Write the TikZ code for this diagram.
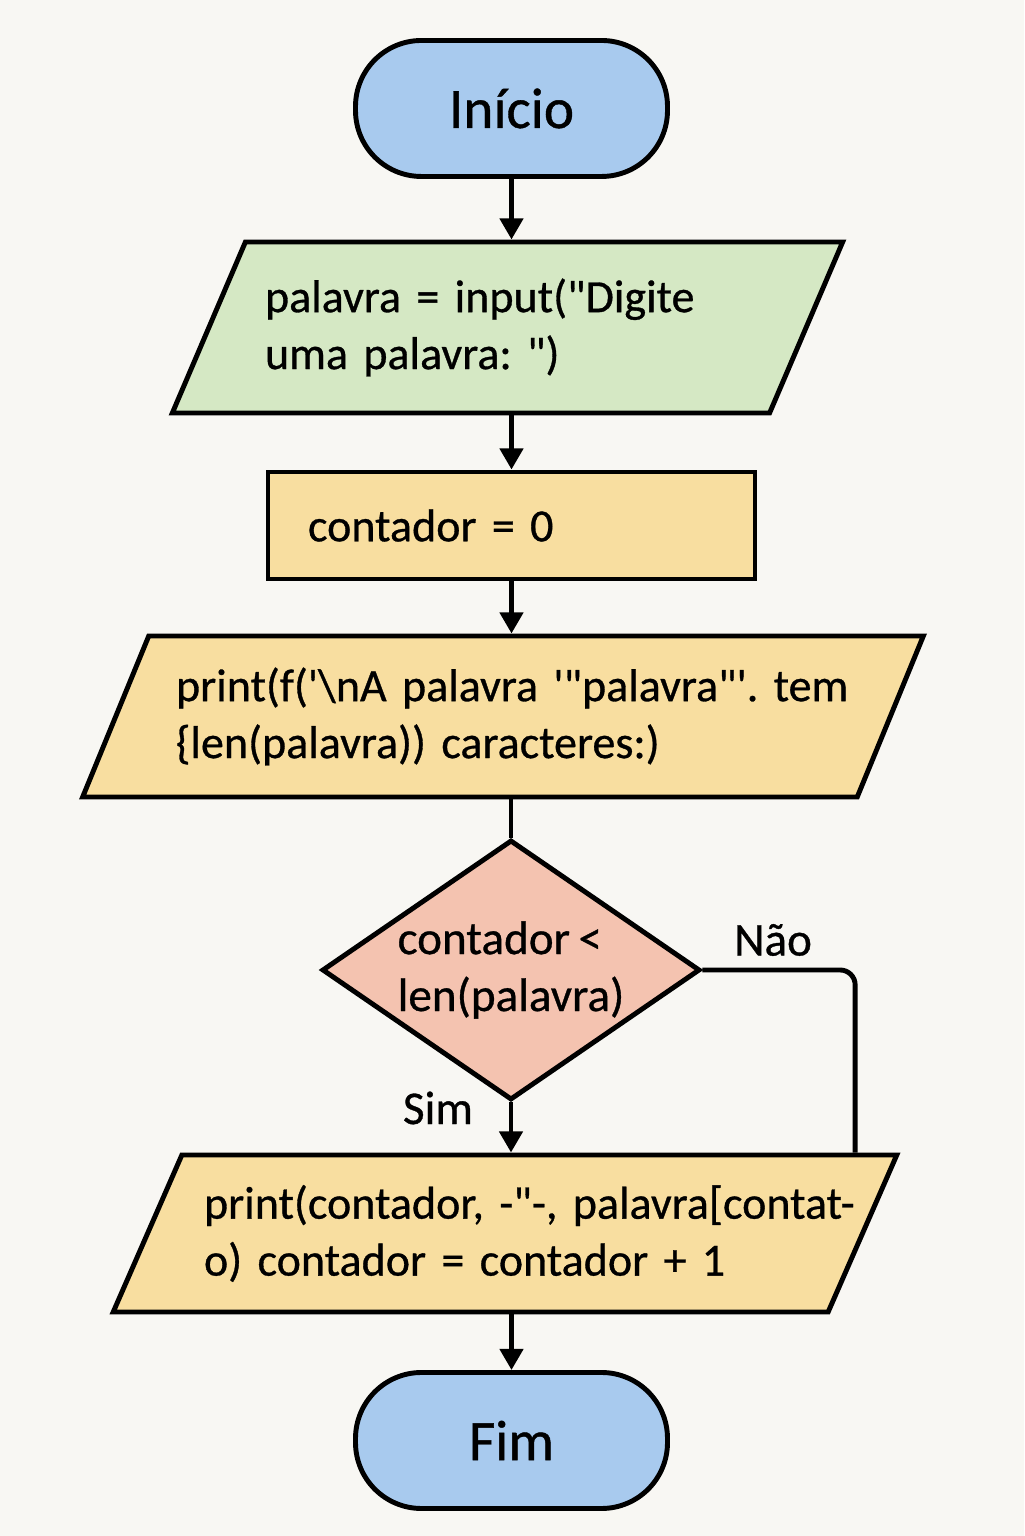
\documentclass[tikz,border=0pt]{standalone}
\usepackage{fontspec}
\setmainfont{Carlito}[WordSpace=0.8,FakeBold=0.7]
\frenchspacing
\usetikzlibrary{shapes.geometric,arrows.meta,calc}
\definecolor{bgcol}{RGB}{248,247,243}
\definecolor{termblue}{RGB}{168,202,238}
\definecolor{inpgreen}{RGB}{213,232,196}
\definecolor{procorange}{RGB}{248,222,160}
\definecolor{decsalmon}{RGB}{244,195,176}
\newcommand{\dq}{\textquotedbl}
\newcommand{\sq}{\textquotesingle}

\begin{document}
\begin{tikzpicture}[
    terminal/.style={draw,line width=1.4pt,fill=termblue,rounded corners=0.66cm,minimum width=3.12cm,minimum height=1.36cm,font=\fontsize{16.3}{18}\selectfont},
    iobox/.style={draw,line width=1.4pt,trapezium,trapezium stretches=true,inner sep=0pt,align=left,font=\fontsize{13.1}{16.2}\selectfont},
    procbox/.style={draw,line width=1.4pt,fill=procorange,inner sep=0pt,align=left,font=\fontsize{13.1}{16.2}\selectfont},
    decbox/.style={draw,line width=1.4pt,diamond,fill=decsalmon,aspect=1.45,inner sep=0pt,align=left,font=\fontsize{13.4}{16.2}\selectfont},
    flow/.style={line width=1.4pt,-{Triangle[length=6pt,width=6.5pt]}},
    lbl/.style={font=\fontsize{13.4}{16.2}\selectfont}
]
            \useasboundingbox (0,0) rectangle (10.24,15.36);
            \fill[bgcol] (0,0) rectangle (10.24,15.36);
            \node[terminal] (inicio) at (5.115,14.275) {Início};
            \node[iobox,fill=inpgreen,trapezium left angle=55.4,trapezium right angle=124.6,minimum width=6.71cm,minimum height=1.71cm,text width=4.85cm] (entrada) at (5.075,12.085)
                {\mbox{palavra = input(\dq Digite}\\\mbox{uma palavra: \dq)}};
            \node[procbox,minimum width=4.87cm,minimum height=1.07cm,text width=4.07cm] (zera) at (5.115,10.105) {contador = 0};
            \node[iobox,fill=procorange,trapezium left angle=58.1,trapezium right angle=121.9,minimum width=8.43cm,minimum height=1.61cm,text width=6.54cm] (mostra) at (5.03,8.195)
                {\mbox{print(f(\sq\textbackslash nA palavra \sq\dq palavra\dq\sq. tem}\\\mbox{\{len(palavra)) caracteres:)}};
            \node[decbox,minimum width=3.78cm,minimum height=2.60cm] (teste) at (5.11,5.66) {contador <\\len(palavra)};
            \node[iobox,fill=procorange,trapezium left angle=56.6,trapezium right angle=123.4,minimum width=7.85cm,minimum height=1.57cm,text width=6.02cm] (laco) at (5.05,3.025)
                {\mbox{print(contador, -\dq-, palavra[contat-}\\\mbox{o) contador = contador + 1}};
            \node[terminal] (fim) at (5.115,0.955) {Fim};
            \node[lbl] (sim) at (4.38,4.28) {Sim};
            \node[lbl] (nao) at (7.73,5.96) {Não};
            \coordinate (naofim) at ($(laco.top left corner)!0.937!(laco.top right corner)$);
            \draw[flow] (inicio.south) -- (inicio.south |- entrada.north);
            \draw[flow] (entrada.south -| zera.north) -- (zera.north);
            \draw[flow] (zera.south) -- (zera.south |- mostra.north);
            \draw[line width=1.4pt] (mostra.south -| teste.north) -- (teste.north);
            \draw[flow] (teste.south) -- (teste.south |- laco.north);
            \draw[line width=1.4pt,rounded corners=0.15cm] (teste.east) -| (naofim);
            \draw[flow] (laco.south -| fim.north) -- (fim.north);
        \end{tikzpicture}
\end{document}
